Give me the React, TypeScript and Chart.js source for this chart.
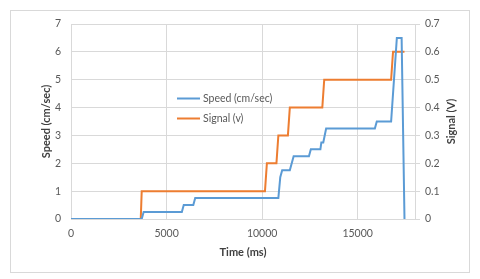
import React, { useEffect, useRef } from "react";
import { Chart, registerables } from "chart.js";

Chart.register(...registerables);

const speedTime = [0, 3700, 3800, 5800, 5900, 6400, 6500, 10850, 10950, 11050, 11450, 11650, 12450, 12550, 13050, 13100, 13200, 13350, 15900, 16000, 16750, 17050, 17300, 17450];
const speedValues = [0, 0, 0.25, 0.25, 0.5, 0.5, 0.75, 0.75, 1.5, 1.75, 1.75, 2.25, 2.25, 2.5, 2.5, 2.75, 2.75, 3.25, 3.25, 3.5, 3.5, 6.5, 6.5, 0];
const signalTime = [0, 3650, 3700, 10150, 10250, 10750, 10850, 11350, 11450, 13150, 13250, 16750, 16850, 17450];
const signalValues = [0, 0, 0.1, 0.1, 0.2, 0.2, 0.3, 0.3, 0.4, 0.4, 0.5, 0.5, 0.6, 0.6];
const xTickValues = [0, 5000, 10000, 15000];

const seriesNames = ["Speed (cm/sec)", "Signal (v)"];
const xTitle = "Time (ms)";
const yTitle = "Speed (cm/sec)";
const y2Title = "Signal (V)";

const BLUE = "#5B9BD5";
const ORANGE = "#ED7D31";
const GRID = "#d9d9d9";
const TEXT = "#595959";
const TITLE = "#404040";
const FONT = "Lato, 'Open Sans', sans-serif";

export default function App() {
  const ref = useRef<HTMLCanvasElement | null>(null);
  useEffect(() => {
    if (!ref.current) return;
    const decor = {
      id: "decor",
      beforeDraw(chart: any) {
        const c = chart.ctx;
        c.save();
        c.fillStyle = "#fff";
        c.fillRect(0, 0, chart.width, chart.height);
        c.strokeStyle = GRID;
        c.lineWidth = 1;
        c.strokeRect(10.5, 10.5, 459, 262);
        c.restore();
      },
      afterDraw(chart: any) {
        const c = chart.ctx;
        const a = chart.chartArea;
        const cy = (a.top + a.bottom) / 2;
        c.save();
        c.fillStyle = TITLE;
        c.font = "bold 11px " + FONT;
        c.textAlign = "center";
        c.textBaseline = "middle";
        c.fillText(xTitle, (a.left + a.right) / 2, 252);
        c.save();
        c.translate(46, cy);
        c.rotate(-Math.PI / 2);
        c.fillText(yTitle, 0, 0);
        c.restore();
        c.save();
        c.translate(451, cy);
        c.rotate(-Math.PI / 2);
        c.fillText(y2Title, 0, 0);
        c.restore();
        c.fillStyle = TEXT;
        c.font = "10.5px " + FONT;
        c.textAlign = "left";
        const cols = [BLUE, ORANGE];
        const ys = [98.5, 118.5];
        for (let i = 0; i < 2; i++) {
          c.strokeStyle = cols[i];
          c.lineWidth = 2;
          c.beginPath();
          c.moveTo(177, ys[i]);
          c.lineTo(200, ys[i]);
          c.stroke();
          c.fillText(seriesNames[i], 203, ys[i]);
        }
        c.restore();
      },
    };
    const tickFont = { family: FONT, size: 10.5 };
    const chart = new Chart(ref.current, {
      type: "scatter",
      data: {
        datasets: [
          {
            label: seriesNames[0],
            data: speedTime.map((t, i) => ({ x: t, y: speedValues[i] })),
            showLine: true,
            borderColor: BLUE,
            backgroundColor: BLUE,
            borderWidth: 2,
            pointRadius: 0,
            yAxisID: "y",
          },
          {
            label: seriesNames[1],
            data: signalTime.map((t, i) => ({ x: t, y: signalValues[i] })),
            showLine: true,
            borderColor: ORANGE,
            backgroundColor: ORANGE,
            borderWidth: 2,
            pointRadius: 0,
            yAxisID: "y2",
          },
        ],
      },
      options: {
        animation: false,
        responsive: false,
        layout: { padding: { left: 0, right: 0, top: 24, bottom: 0 } },
        plugins: { legend: { display: false }, tooltip: { enabled: false } },
        scales: {
          x: {
            type: "linear",
            min: 0,
            max: 18000,
            afterBuildTicks: (s: any) => {
              s.ticks = xTickValues.map((v) => ({ value: v }));
            },
            afterFit: (s: any) => {
              s.height = 60;
            },
            ticks: {
              color: TEXT,
              font: tickFont,
              padding: 8,
              maxRotation: 0,
              autoSkip: false,
              callback: (v: any) => String(v),
            },
            grid: { color: GRID, drawTicks: false },
            border: { color: GRID },
          },
          y: {
            position: "left",
            min: 0,
            max: 7,
            afterFit: (s: any) => {
              s.width = 71;
            },
            ticks: {
              stepSize: 1,
              color: TEXT,
              font: tickFont,
              padding: 10,
            },
            grid: { color: GRID, drawTicks: false },
            border: { color: GRID },
          },
          y2: {
            position: "right",
            min: 0,
            max: 0.7,
            afterFit: (s: any) => {
              s.width = 65;
            },
            ticks: {
              stepSize: 0.1,
              color: TEXT,
              font: tickFont,
              padding: 5,
            },
            grid: { color: GRID, drawOnChartArea: false, drawTicks: true, tickLength: 5 },
            border: { color: GRID },
          },
        },
      },
      plugins: [decor],
    } as any);
    return () => chart.destroy();
  }, []);
  return (
    <div style={{ position: "absolute", left: 0, top: 0, width: 480, height: 279 }}>
      <canvas ref={ref} width={480} height={279} style={{ width: 480, height: 279 }} />
    </div>
  );
}
